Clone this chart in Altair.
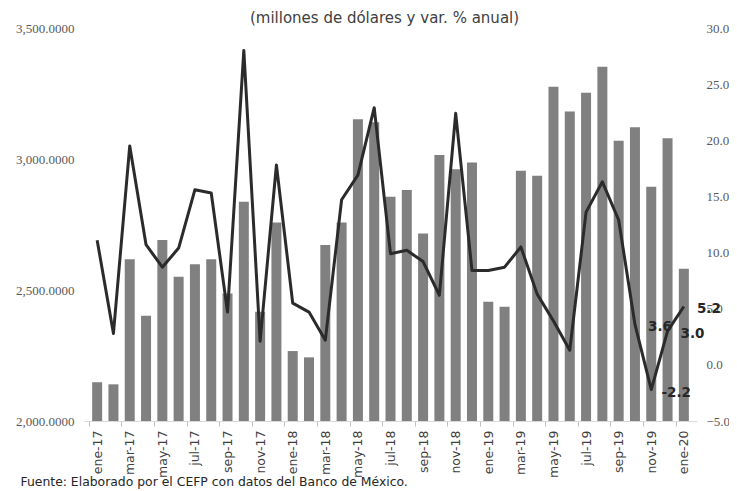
import altair as alt
import pandas as pd

months = [
    "ene-17", "feb-17", "mar-17", "abr-17", "may-17", "jun-17", "jul-17", "ago-17", "sep-17", "oct-17", "nov-17", "dic-17",
    "ene-18", "feb-18", "mar-18", "abr-18", "may-18", "jun-18", "jul-18", "ago-18", "sep-18", "oct-18", "nov-18", "dic-18",
    "ene-19", "feb-19", "mar-19", "abr-19", "may-19", "jun-19", "jul-19", "ago-19", "sep-19", "oct-19", "nov-19", "dic-19",
    "ene-20",
]
# millones de dólares (eje izquierdo)
valores = [
    2148, 2140, 2617, 2402, 2691, 2551, 2598, 2617, 2487, 2837, 2417, 2758,
    2267, 2243, 2672, 2758, 3152, 3140, 2856, 2882, 2716, 3015, 2961, 2987,
    2455, 2436, 2955, 2936, 3276, 3181, 3253, 3352, 3070, 3121, 2894, 3079,
    2581,
]
# var. % anual (eje derecho)
variacion = [
    11.1, 2.8, 19.5, 10.7, 8.7, 10.4, 15.6, 15.3, 4.7, 28.0, 2.1, 17.8,
    5.5, 4.7, 2.2, 14.7, 16.9, 22.9, 9.9, 10.2, 9.2, 6.2, 22.4, 8.4,
    8.4, 8.7, 10.5, 6.3, 3.9, 1.3, 13.6, 16.3, 12.9, 3.6, -2.2, 3.0,
    5.2,
]
etiquetados = ["oct-19", "nov-19", "dic-19", "ene-20"]

titulo = "(millones de dólares y var. % anual)"
fuente = "Fuente: Elaborado por el CEFP con datos del Banco de México."

df = pd.DataFrame({
    "i": list(range(len(months))),
    "mes": months,
    "valor": valores,
    "var": variacion,
})
df["etiqueta"] = df["var"].map(lambda v: f"{v:.1f}")
df_lab = df[df["mes"].isin(etiquetados)]

W, H = 613, 393
step = W / len(months)
label_expr = "[" + ",".join(f"'{m}'" for m in months) + "][datum.value]"

x_enc = alt.X(
    "i:Q",
    scale=alt.Scale(domain=[-0.5, len(months) - 0.5], nice=False, zero=False),
    axis=alt.Axis(
        values=list(range(0, len(months), 2)),
        labelExpr=label_expr,
        labelAngle=270,
        labelFont="DejaVu Sans",
        labelFontSize=12.5,
        labelColor="#404040",
        labelPadding=4,
        tickOffset=-step / 2,
        labelOffset=step / 2,
        tickSize=5,
        tickColor="#bfbfbf",
        domainColor="#d9d9d9",
        grid=False,
        title=fuente,
        titleFont="DejaVu Sans",
        titleFontSize=12.4,
        titleFontWeight="normal",
        titleColor="#262626",
        titleAnchor="start",
        titleAlign="left",
        titleBaseline="alphabetic",
        titleX=-64,
        titleY=64,
    ),
)

bars = alt.Chart(df).mark_bar(color="#808080", size=10).encode(
    x=x_enc,
    y=alt.Y(
        "valor:Q",
        scale=alt.Scale(domain=[2000, 3500], nice=False, zero=False),
        axis=alt.Axis(
            values=[2000, 2500, 3000, 3500],
            format=",.4f",
            orient="left",
            domain=False,
            ticks=False,
            grid=False,
            labelFont="Liberation Serif",
            labelFontSize=13,
            labelColor="#595959",
            labelPadding=10,
            title=None,
        ),
    ),
    y2=alt.Y2Datum(2000),
)

y_right = alt.Y(
    "var:Q",
    scale=alt.Scale(domain=[-5, 30], nice=False, zero=False),
    axis=alt.Axis(
        values=[-5, 0, 5, 10, 15, 20, 25, 30],
        format=".1f",
        orient="right",
        domain=False,
        ticks=False,
        grid=False,
        labelFont="Liberation Serif",
        labelFontSize=13,
        labelColor="#595959",
        labelPadding=9,
        title=None,
    ),
)

line = alt.Chart(df).mark_line(color="#2b2b2b", strokeWidth=3, strokeJoin="round").encode(
    x=x_enc,
    y=y_right,
)

text = alt.Chart(df_lab).mark_text(
    dx=25, dy=3, fontWeight="bold", fontSize=13.5, font="DejaVu Sans", color="#262626"
).encode(
    x=x_enc,
    y=y_right,
    text="etiqueta:N",
)

chart = alt.layer(bars, alt.layer(line, text)).resolve_scale(y="independent").properties(
    width=W,
    height=H,
    autosize=alt.AutoSizeParams(type="none"),
    padding={"left": 76, "top": 20, "right": 32, "bottom": 68},
    title=alt.TitleParams(
        text=titulo,
        anchor="middle",
        font="DejaVu Sans",
        fontSize=15,
        fontWeight="normal",
        color="#404040",
        offset=3,
        dy=7,
        dx=-6,
    ),
).configure_view(stroke=None)

chart.save("out.html", embed_options={"renderer": "svg", "actions": False})
